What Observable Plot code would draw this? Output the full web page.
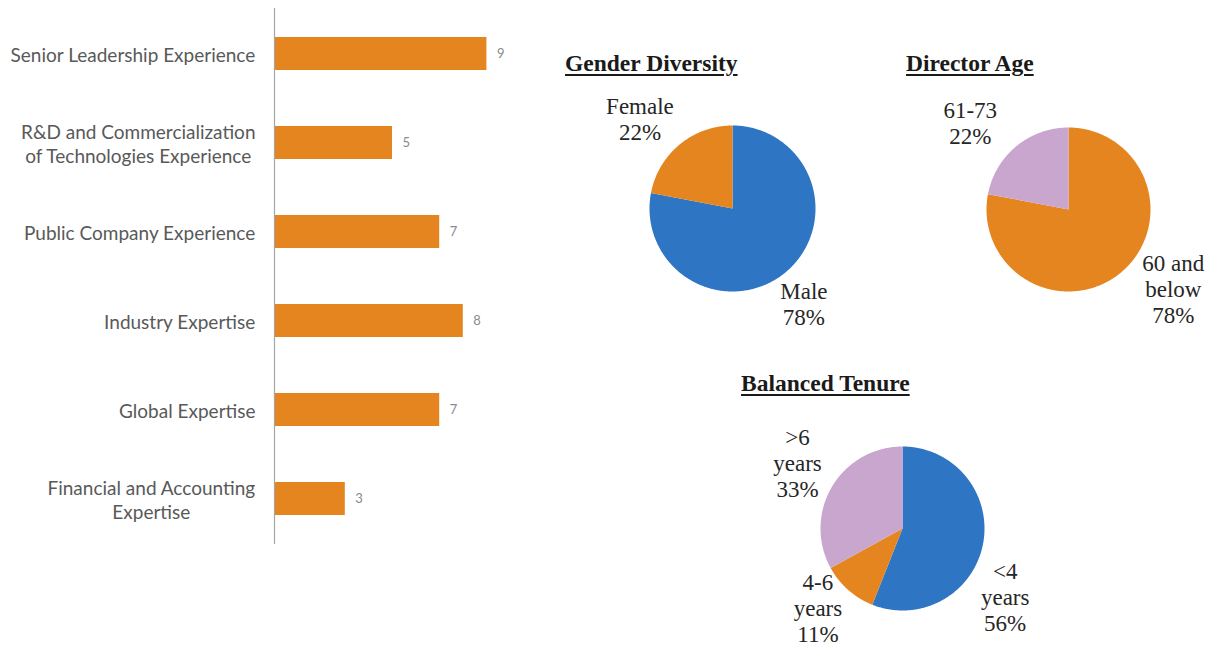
<!DOCTYPE html>
<html><head><meta charset="utf-8">
<script src="https://cdn.jsdelivr.net/npm/d3@7"></script>
<script src="https://cdn.jsdelivr.net/npm/@observablehq/plot@0.6"></script>
<style>
body{margin:0;background:#fff;}
#root{position:relative;width:1214px;height:652px;overflow:hidden;background:#fff;}
.panel{position:absolute;}
.title{position:absolute;font-family:"Liberation Serif",serif;font-weight:bold;font-size:23.5px;text-decoration:underline;text-decoration-thickness:2px;text-underline-offset:3px;color:#1a1a1a;white-space:nowrap;line-height:1;}
</style></head><body><div id="root"></div>
<script>
// ---- data ----
const skills = ["Senior Leadership Experience","R&D and Commercialization of Technologies Experience","Public Company Experience","Industry Expertise","Global Expertise","Financial and Accounting Expertise"];
const skillTickLabels = ["Senior Leadership Experience","R&D and Commercialization\nof Technologies Experience","Public Company Experience","Industry Expertise","Global Expertise","Financial and Accounting\nExpertise"];
const skillCounts = [9,5,7,8,7,3];

const genderNames = ["Male","Female"];
const genderValues = [78,22];
const genderLabels = ["Male\n78%","Female\n22%"];

const ageNames = ["60 and below","61-73"];
const ageValues = [78,22];
const ageLabels = ["60 and\nbelow\n78%","61-73\n22%"];

const tenureNames = ["<4 years","4-6 years",">6 years"];
const tenureValues = [56,11,33];
const tenureLabels = ["<4\nyears\n56%","4-6\nyears\n11%",">6\nyears\n33%"];

// ---- styles / layout ----
const ORANGE = "#E5851F", BLUE = "#2E75C3", LAVENDER = "#C9A6CE";
const AXIS_FONT = 19, AXIS_PAD = 19;
const root = document.getElementById("root");

function place(el, left, top) {
  el.classList.add("panel");
  el.style.left = left + "px"; el.style.top = top + "px";
  root.appendChild(el);
}

// measure the widest line of a label, to centre multi-line labels as a block
const ctx = document.createElement("canvas").getContext("2d");
ctx.font = `${AXIS_FONT}px Lato`;
const blockWidth = s => d3.max(s.split("\n"), l => ctx.measureText(l).width);

// ---- bar chart ----
const skillData = skills.map((s, i) => ({skill: s, count: skillCounts[i], tick: skillTickLabels[i]}));
const bars = Plot.plot({
  width: 530, height: 560,
  marginLeft: 274, marginRight: 20, marginTop: 8, marginBottom: 16,
  style: {fontFamily: "Lato, sans-serif", color: "#595959", background: "white"},
  x: {domain: [0, 10], axis: null},
  y: {domain: skills, paddingInner: 0.63, paddingOuter: 0.32, axis: null},
  marks: [
    Plot.barX(skillData, {x: "count", y: "skill", fill: ORANGE}),
    Plot.ruleX([0], {stroke: "#A6A6A6", strokeWidth: 1.2}),
    Plot.text(skillData, {x: "count", y: "skill", text: d => String(d.count), textAnchor: "start", dx: 10, fill: "#8a8a8a", fontSize: 13}),
    ...skillData.map(d => Plot.text([d], {
      x: 0, y: "skill", text: "tick", textAnchor: "middle",
      dx: -(AXIS_PAD + blockWidth(d.tick) / 2),
      fontSize: AXIS_FONT, lineHeight: 1.3, fill: "#595959"
    }))
  ]
});
place(bars, 0, 0);

// ---- pies ----
function piePlot({names, values, labels, colors, r, w, h, placement}) {
  const total = d3.sum(values);
  const pts = [];
  const lab = [];
  let acc = 0;
  values.forEach((v, i) => {
    const a0 = acc / total * 2 * Math.PI;
    acc += v;
    const a1 = acc / total * 2 * Math.PI;
    const n = Math.max(2, Math.ceil((a1 - a0) / 0.01));
    pts.push({k: names[i], x: 0, y: 0});
    for (let t = 0; t <= n; t++) {
      const a = a0 + (a1 - a0) * t / n;
      pts.push({k: names[i], x: Math.sin(a), y: Math.cos(a)});
    }
    pts.push({k: names[i], x: 0, y: 0});
    const [deg, dist] = placement[i];
    const la = deg * Math.PI / 180;
    lab.push({text: labels[i], x: dist * Math.sin(la), y: dist * Math.cos(la)});
  });
  return Plot.plot({
    width: w, height: h, margin: 0,
    style: {background: "transparent"},
    x: {domain: [-w / 2 / r, w / 2 / r], axis: null},
    y: {domain: [-h / 2 / r, h / 2 / r], axis: null},
    color: {domain: names, range: colors},
    marks: [
      Plot.line(pts, {x: "x", y: "y", z: "k", fill: "k", stroke: "none", curve: "linear"}),
      Plot.text(lab, {x: "x", y: "y", text: "text", fontSize: 23, lineHeight: 1.13, fontFamily: "Liberation Serif, serif", fill: "#262626"})
    ]
  });
}

// label placement: [angle clockwise from top (deg), distance in radii]
const gender = piePlot({names: genderNames, values: genderValues, labels: genderLabels, colors: [BLUE, ORANGE], r: 83, w: 320, h: 250,
  placement: [[143, 1.43], [314, 1.55]]});
place(gender, 732 - 160, 208 - 125);

const age = piePlot({names: ageNames, values: ageValues, labels: ageLabels, colors: [ORANGE, LAVENDER], r: 82, w: 290, h: 250,
  placement: [[127, 1.6], [311.5, 1.6]]});
place(age, 1068 - 145, 209 - 125);

const tenure = piePlot({names: tenureNames, values: tenureValues, labels: tenureLabels, colors: [BLUE, ORANGE, LAVENDER], r: 82, w: 320, h: 250,
  placement: [[123.4, 1.5], [227, 1.41], [302, 1.51]]});
place(tenure, 902 - 160, 528 - 125);

// ---- titles ----
function title(text, left, top) {
  const d = document.createElement("div");
  d.className = "title"; d.textContent = text;
  d.style.left = left + "px"; d.style.top = top + "px";
  root.appendChild(d);
}
title("Gender Diversity", 565, 52);
title("Director Age", 906, 52);
title("Balanced Tenure", 741, 372);
</script>
</body></html>
